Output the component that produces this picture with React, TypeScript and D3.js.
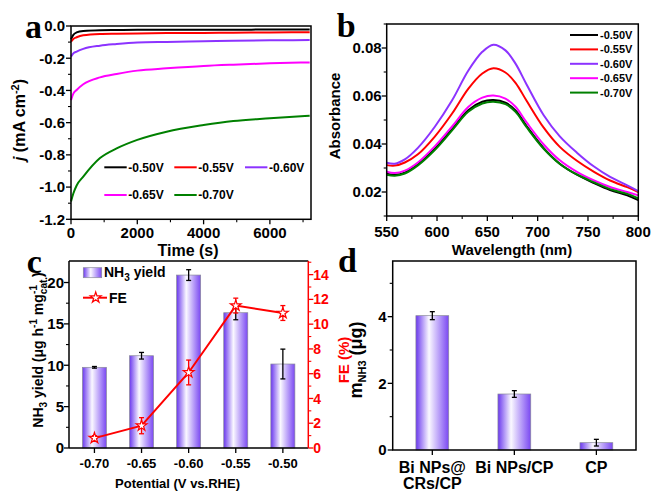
import React from 'react';
import * as d3 from 'd3';

const SANS = "'Liberation Sans', Arial, Helvetica, sans-serif";
const SERIF = "'Liberation Serif', 'Times New Roman', serif";

// ---------- Panel a: chronoamperometry ----------
const potentialLabels = ['-0.50V', '-0.55V', '-0.60V', '-0.65V', '-0.70V'];
const lineColors = ['#000000', '#ff0000', '#8c33ff', '#ff00ff', '#008000'];
const timeS = [0, 70, 170, 370, 875, 1377, 2000, 2885, 4000, 4895, 6000, 7200];
const j050 = [-0.083, -0.055, -0.040, -0.031, -0.026, -0.025, -0.024, -0.024, -0.023, -0.023, -0.022, -0.022];
const j055 = [-0.097, -0.080, -0.070, -0.058, -0.050, -0.048, -0.046, -0.044, -0.043, -0.042, -0.040, -0.039];
const j060 = [-0.190, -0.170, -0.159, -0.142, -0.122, -0.112, -0.103, -0.099, -0.095, -0.092, -0.089, -0.087];
const j065 = [-0.460, -0.420, -0.397, -0.362, -0.319, -0.298, -0.277, -0.263, -0.248, -0.240, -0.232, -0.226];
const j070 = [-1.090, -1.040, -0.990, -0.935, -0.820, -0.760, -0.707, -0.656, -0.615, -0.590, -0.573, -0.557];
const jSeries = [j050, j055, j060, j065, j070];
const aXTicks = [0, 2000, 4000, 6000];
const aXMinor = [1000, 3000, 5000, 7000];
const aYTicks = [0, -0.2, -0.4, -0.6, -0.8, -1.0, -1.2];
const aYMinor = [-0.1, -0.3, -0.5, -0.7, -0.9, -1.1];

// ---------- Panel b: UV-vis ----------
const wavelength = [550, 558, 568, 581, 598, 615, 631, 645, 656, 668, 678, 689, 706, 722, 739, 756, 772, 789, 800];
const abs050 = [0.0276, 0.0272, 0.0281, 0.0315, 0.0381, 0.0463, 0.0541, 0.0576, 0.0583, 0.0572, 0.0540, 0.0475, 0.0383, 0.0318, 0.0272, 0.0237, 0.0208, 0.0186, 0.0166];
const abs055 = [0.0312, 0.0310, 0.0323, 0.0357, 0.0432, 0.0527, 0.0630, 0.0694, 0.0716, 0.0698, 0.0655, 0.0580, 0.0468, 0.0388, 0.0330, 0.0284, 0.0248, 0.0220, 0.0200];
const abs060 = [0.0322, 0.0318, 0.0336, 0.0384, 0.0473, 0.0582, 0.0705, 0.0784, 0.0814, 0.0790, 0.0735, 0.0648, 0.0520, 0.0432, 0.0364, 0.0306, 0.0263, 0.0228, 0.0204];
const abs065 = [0.0284, 0.0279, 0.0289, 0.0323, 0.0391, 0.0473, 0.0554, 0.0593, 0.0602, 0.0589, 0.0555, 0.0490, 0.0398, 0.0332, 0.0284, 0.0248, 0.0221, 0.0200, 0.0186];
const abs070 = [0.0272, 0.0268, 0.0277, 0.0311, 0.0376, 0.0457, 0.0534, 0.0569, 0.0576, 0.0566, 0.0534, 0.0470, 0.0380, 0.0317, 0.0273, 0.0240, 0.0212, 0.0192, 0.0173];
const absSeries = [abs050, abs055, abs060, abs065, abs070];
const bXTicks = [550, 600, 650, 700, 750, 800];
const bXMinor = [575, 625, 675, 725, 775];
const bYTicks = [0.02, 0.04, 0.06, 0.08];
const bYMinor = [0.01, 0.03, 0.05, 0.07, 0.09];

// ---------- Panel c: NH3 yield & FE ----------
const potentialCats = ['-0.70', '-0.65', '-0.60', '-0.55', '-0.50'];
const nh3Yield = [9.75, 11.15, 20.9, 16.35, 10.15];
const nh3YieldErr = [0.1, 0.4, 0.65, 0.85, 1.8];
const feValues = [0.8, 1.8, 6.1, 11.5, 10.9];
const feErr = [0.2, 0.65, 1.0, 0.6, 0.6];
const cYTicks = [0, 5, 10, 15, 20];
const cYMinor = [2.5, 7.5, 12.5, 17.5];
const cY2Ticks = [0, 2, 4, 6, 8, 10, 12, 14];
const cY2Minor = [1, 3, 5, 7, 9, 11, 13, 15];

// ---------- Panel d: NH3 mass ----------
const sampleCats = ['Bi NPs@|CRs/CP', 'Bi NPs/CP', 'CP'];
const massNH3 = [4.03, 1.68, 0.22];
const massErr = [0.12, 0.1, 0.1];
const dYTicks = [0, 2, 4];
const dYMinor = [1, 3, 5];

function LeftTicks({ scale, x, major, minor, fmt, fs, color = '#000', gap = 6 }: any) {
  return (
    <g>
      {major.map((v: number) => (
        <line key={'M' + v} x1={x} x2={x - 5} y1={scale(v)} y2={scale(v)} stroke={color} strokeWidth={1.3} />
      ))}
      {minor.map((v: number) => (
        <line key={'m' + v} x1={x} x2={x - 3} y1={scale(v)} y2={scale(v)} stroke={color} strokeWidth={1.1} />
      ))}
      {major.map((v: number) => (
        <text key={'t' + v} x={x - gap} y={scale(v)} dy="0.36em" textAnchor="end" fontSize={fs} fontWeight="bold" fill={color}>
          {fmt(v)}
        </text>
      ))}
    </g>
  );
}

function RightTicks({ scale, x, major, minor, fmt, fs, color = '#000', gap = 5 }: any) {
  return (
    <g>
      {major.map((v: number) => (
        <line key={'M' + v} x1={x} x2={x + 5} y1={scale(v)} y2={scale(v)} stroke={color} strokeWidth={1.3} />
      ))}
      {minor.map((v: number) => (
        <line key={'m' + v} x1={x} x2={x + 3} y1={scale(v)} y2={scale(v)} stroke={color} strokeWidth={1.1} />
      ))}
      {major.map((v: number) => (
        <text key={'t' + v} x={x + gap} y={scale(v)} dy="0.36em" textAnchor="start" fontSize={fs} fontWeight="bold" fill={color}>
          {fmt(v)}
        </text>
      ))}
    </g>
  );
}

function BottomTicks({ scale, y, major, minor, fmt, fs, base }: any) {
  return (
    <g>
      {major.map((v: any) => (
        <line key={'M' + v} x1={scale(v)} x2={scale(v)} y1={y} y2={y + 5} stroke="#000" strokeWidth={1.3} />
      ))}
      {minor.map((v: any) => (
        <line key={'m' + v} x1={scale(v)} x2={scale(v)} y1={y} y2={y + 3} stroke="#000" strokeWidth={1.1} />
      ))}
      {fmt &&
        major.map((v: any) => (
          <text key={'t' + v} x={scale(v)} y={base} textAnchor="middle" fontSize={fs} fontWeight="bold">
            {fmt(v)}
          </text>
        ))}
    </g>
  );
}

function Star({ x, y }: { x: number; y: number }) {
  const p = d3.symbol().type(d3.symbolStar).size(36)();
  return <path d={p || ''} transform={`translate(${x},${y})`} fill="#fff" stroke="#ff0000" strokeWidth={1.2} />;
}

function ErrBar({ x, y1, y2, color = '#000', cap = 5 }: any) {
  return (
    <g stroke={color} strokeWidth={1.3}>
      <line x1={x} x2={x} y1={y1} y2={y2} />
      <line x1={x - cap / 2} x2={x + cap / 2} y1={y1} y2={y1} />
      <line x1={x - cap / 2} x2={x + cap / 2} y1={y2} y2={y2} />
    </g>
  );
}

export default function App() {
  // panel a
  const xa = d3.scaleLinear().domain([0, 7240]).range([71, 311]);
  const ya = d3.scaleLinear().domain([0, -1.2]).range([26, 219.3]);
  const lineA = d3
    .line<number>()
    .x((_, i) => xa(timeS[i]))
    .y((d) => ya(d))
    .curve(d3.curveMonotoneX);

  // panel b
  const xb = d3.scaleLinear().domain([550, 800]).range([386.7, 638.3]);
  const yb = d3.scaleLinear().domain([0.01, 0.09]).range([216, 24]);
  const lineB = d3
    .line<number>()
    .x((_, i) => xb(wavelength[i]))
    .y((d) => yb(d))
    .curve(d3.curveCatmullRom.alpha(0.5));

  // panel c
  const xc = d3.scaleBand<string>().domain(potentialCats).range([69, 308.3]).paddingInner(0.49).paddingOuter(0.285);
  const yc = d3.scaleLinear().domain([0, 22.6]).range([448, 261]);
  const yc2 = d3.scaleLinear().domain([0, 15.1]).range([448, 261]);
  const cx = (c: string) => (xc(c) as number) + xc.bandwidth() / 2;
  const feLine = d3
    .line<number>()
    .x((_, i) => cx(potentialCats[i]))
    .y((d) => yc2(d));

  // panel d
  const xd = d3.scaleBand<string>().domain(sampleCats).range([392.7, 636]).paddingInner(0.6).paddingOuter(0.283);
  const yd = d3.scaleLinear().domain([0, 5.67]).range([450, 261]);
  const dx = (c: string) => (xd(c) as number) + xd.bandwidth() / 2;

  const legendA = [
    { i: 0, x: 104.3, y: 167.3 },
    { i: 1, x: 174.3, y: 167.3 },
    { i: 2, x: 245, y: 167.3 },
    { i: 3, x: 104.3, y: 195 },
    { i: 4, x: 174.3, y: 195 },
  ];

  return (
    <svg
      width={651}
      height={493}
      viewBox="0 0 651 493"
      style={{ position: 'absolute', left: 0, top: 0, background: '#fff' }}
      fontFamily={SANS}
    >
      <defs>
        <linearGradient id="barGrad" x1="0" x2="1" y1="0" y2="0">
          <stop offset="0%" stopColor="#6a38ee" />
          <stop offset="40%" stopColor="#faf8ff" />
          <stop offset="100%" stopColor="#7a48f2" />
        </linearGradient>
      </defs>
      <rect x={0} y={0} width={651} height={493} fill="#fff" />

      {/* ================= Panel a ================= */}
      <g>
        {jSeries.map((s, k) => (
          <path key={k} d={lineA(s) || ''} fill="none" stroke={lineColors[k]} strokeWidth={2} />
        ))}
        <rect x={71} y={26} width={240} height={193.3} fill="none" stroke="#000" strokeWidth={1.5} />
        <LeftTicks scale={ya} x={71} major={aYTicks} minor={aYMinor} fmt={(v: number) => v.toFixed(1)} fs={15} />
        <BottomTicks scale={xa} y={219.3} major={aXTicks} minor={aXMinor} fmt={(v: number) => String(v)} fs={15} base={237.5} />
        {legendA.map((l) => (
          <g key={l.i}>
            <line x1={l.x} x2={l.x + 22.4} y1={l.y} y2={l.y} stroke={lineColors[l.i]} strokeWidth={2} />
            <text x={l.x + 24} y={l.y} dy="0.36em" fontSize={12} fontWeight="bold">
              {potentialLabels[l.i]}
            </text>
          </g>
        ))}
        <text x={188} y={256} textAnchor="middle" fontSize={16} fontWeight="bold">
          Time (s)
        </text>
        <text transform="translate(25,120) rotate(-90)" textAnchor="middle" fontSize={16} fontWeight="bold">
          <tspan fontStyle="italic">j</tspan>
          <tspan> (mA cm</tspan>
          <tspan dy={-6} fontSize={11}>-2</tspan>
          <tspan dy={6}>)</tspan>
        </text>
        <text x={25} y={37.7} fontFamily={SERIF} fontSize={34} fontWeight="bold">
          a
        </text>
      </g>

      {/* ================= Panel b ================= */}
      <g>
        {absSeries.map((s, k) => (
          <path key={k} d={lineB(s) || ''} fill="none" stroke={lineColors[k]} strokeWidth={2} />
        ))}
        <rect x={386.7} y={24} width={251.6} height={192} fill="none" stroke="#000" strokeWidth={1.5} />
        <LeftTicks scale={yb} x={386.7} major={bYTicks} minor={bYMinor} fmt={(v: number) => v.toFixed(2)} fs={15} gap={5} />
        <BottomTicks scale={xb} y={216} major={bXTicks} minor={bXMinor} fmt={(v: number) => String(v)} fs={15} base={236.5} />
        {potentialLabels.map((p, k) => {
          const y = 35 + k * 14.4;
          return (
            <g key={p}>
              <line x1={570} x2={598} y1={y} y2={y} stroke={lineColors[k]} strokeWidth={2} />
              <text x={600} y={y} dy="0.36em" fontSize={11} fontWeight="bold">
                {p}
              </text>
            </g>
          );
        })}
        <text x={512} y={254.5} textAnchor="middle" fontSize={15} fontWeight="bold">
          Wavelength (nm)
        </text>
        <text transform="translate(340,116) rotate(-90)" textAnchor="middle" fontSize={15} fontWeight="bold">
          Absorbance
        </text>
        <text x={336.7} y={37.3} fontFamily={SERIF} fontSize={34} fontWeight="bold">
          b
        </text>
      </g>

      {/* ================= Panel c ================= */}
      <g>
        {potentialCats.map((c, i) => (
          <rect
            key={c}
            x={xc(c)}
            y={yc(nh3Yield[i])}
            width={xc.bandwidth()}
            height={448 - yc(nh3Yield[i])}
            fill="url(#barGrad)"
            stroke="#8a8a9a"
            strokeWidth={0.7}
          />
        ))}
        {potentialCats.map((c, i) => (
          <ErrBar key={c} x={cx(c)} y1={yc(nh3Yield[i] + nh3YieldErr[i])} y2={yc(nh3Yield[i] - nh3YieldErr[i])} />
        ))}
        <path d={feLine(feValues) || ''} fill="none" stroke="#ff0000" strokeWidth={2} />
        {potentialCats.map((c, i) => (
          <ErrBar key={c} x={cx(c)} y1={yc2(feValues[i] + feErr[i])} y2={yc2(feValues[i] - feErr[i])} color="#ff0000" />
        ))}
        {potentialCats.map((c, i) => (
          <Star key={c} x={cx(c)} y={yc2(feValues[i])} />
        ))}
        <line x1={69} x2={308.3} y1={261} y2={261} stroke="#000" strokeWidth={1.5} />
        <line x1={69} x2={308.3} y1={448} y2={448} stroke="#000" strokeWidth={1.5} />
        <line x1={69} x2={69} y1={261} y2={448} stroke="#000" strokeWidth={1.5} />
        <line x1={308.3} x2={308.3} y1={261} y2={448} stroke="#ff0000" strokeWidth={1.5} />
        <LeftTicks scale={yc} x={69} major={cYTicks} minor={cYMinor} fmt={(v: number) => String(v)} fs={15} gap={5} />
        <RightTicks scale={yc2} x={308.3} major={cY2Ticks} minor={cY2Minor} fmt={(v: number) => String(v)} fs={14} color="#ff0000" />
        <BottomTicks
          scale={(c: string) => cx(c)}
          y={448}
          major={potentialCats}
          minor={[]}
          fmt={(v: string) => v}
          fs={13}
          base={468}
        />
        {/* legend */}
        <rect x={83.3} y={267.7} width={18.4} height={10} fill="url(#barGrad)" stroke="#8a8a9a" strokeWidth={0.7} />
        <text x={104} y={277} fontSize={14} fontWeight="bold">
          <tspan>NH</tspan>
          <tspan dy={4} fontSize={10}>3</tspan>
          <tspan dy={-4}> yield</tspan>
        </text>
        <line x1={83} x2={107} y1={297.7} y2={297.7} stroke="#ff0000" strokeWidth={2} />
        <Star x={95.7} y={297.7} />
        <text x={109} y={302.5} fontSize={14} fontWeight="bold">
          FE
        </text>
        <text x={177.5} y={488} textAnchor="middle" fontSize={13} fontWeight="bold">
          Potential (V vs.RHE)
        </text>
        <text transform="translate(43,350) rotate(-90)" textAnchor="middle" fontSize={14} fontWeight="bold">
          <tspan>NH</tspan>
          <tspan dy={4} fontSize={10}>3</tspan>
          <tspan dy={-4}> yield (μg h</tspan>
          <tspan dy={-6} fontSize={10}>-1</tspan>
          <tspan dy={6}> mg</tspan>
          <tspan dy={4} fontSize={10}>cat.</tspan>
          <tspan dx={-17} dy={-10} fontSize={10}>-1</tspan>
          <tspan dx={8} dy={6}>)</tspan>
        </text>
        <text transform="translate(349,360) rotate(-90)" textAnchor="middle" fontSize={15} fontWeight="bold" fill="#ff0000">
          FE (%)
        </text>
        <text x={26.7} y={273} fontFamily={SERIF} fontSize={34} fontWeight="bold">
          c
        </text>
      </g>

      {/* ================= Panel d ================= */}
      <g>
        {sampleCats.map((c, i) => (
          <rect
            key={c}
            x={xd(c)}
            y={yd(massNH3[i])}
            width={xd.bandwidth()}
            height={450 - yd(massNH3[i])}
            fill="url(#barGrad)"
            stroke="#8a8a9a"
            strokeWidth={0.7}
          />
        ))}
        {sampleCats.map((c, i) => (
          <ErrBar key={c} x={dx(c)} y1={yd(massNH3[i] + massErr[i])} y2={yd(massNH3[i] - massErr[i])} />
        ))}
        <rect x={392.7} y={261} width={243.3} height={189} fill="none" stroke="#000" strokeWidth={1.5} />
        <LeftTicks scale={yd} x={392.7} major={dYTicks} minor={dYMinor} fmt={(v: number) => String(v)} fs={15} />
        <BottomTicks scale={(c: string) => dx(c)} y={450} major={sampleCats} minor={[]} fs={16} />
        {sampleCats.map((c) =>
          c.split('|').map((line, li) => (
            <text key={c + li} x={dx(c)} y={473 + li * 16} textAnchor="middle" fontSize={16} fontWeight="bold">
              {line}
            </text>
          ))
        )}
        <text transform="translate(362,360) rotate(-90)" textAnchor="middle" fontSize={18} fontWeight="bold">
          <tspan>m</tspan>
          <tspan dy={4} fontSize={11}>NH3</tspan>
          <tspan dy={-4}> (μg)</tspan>
        </text>
        <text x={338} y={271.7} fontFamily={SERIF} fontSize={34} fontWeight="bold">
          d
        </text>
      </g>
    </svg>
  );
}
